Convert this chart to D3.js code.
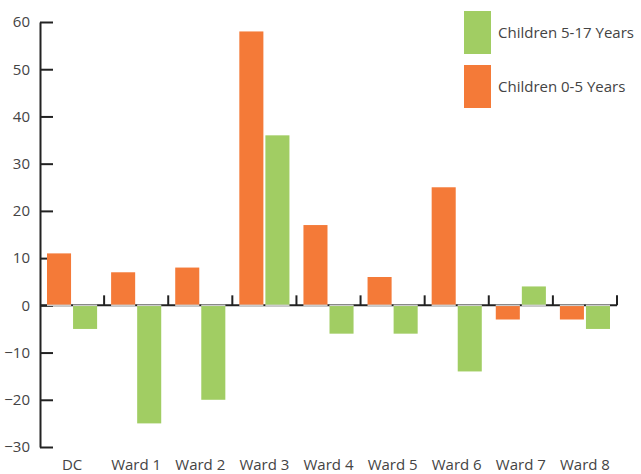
<!DOCTYPE html>
<html>
<head>
<meta charset="utf-8">
<script src="https://cdn.jsdelivr.net/npm/d3@7"></script>
<style>
  body { margin: 0; background: #fff; }
  text { font-family: "Open Sans", sans-serif; fill: #444; }
</style>
</head>
<body>
<svg id="chart" width="641" height="474"></svg>
<script>
const categories = ["DC", "Ward 1", "Ward 2", "Ward 3", "Ward 4", "Ward 5", "Ward 6", "Ward 7", "Ward 8"];
const seriesNames = ["Children 0-5 Years", "Children 5-17 Years"];
const under5 = [11, 7, 8, 58, 17, 6, 25, -3, -3];
const age5to17 = [-5, -25, -20, 36, -6, -6, -14, 4, -5];
const yTicks = [-30, -20, -10, 0, 10, 20, 30, 40, 50, 60];

const colors = { "Children 0-5 Years": "#f47a38", "Children 5-17 Years": "#a1cd63" };

const width = 641, height = 474;
const margin = { top: 22, right: 24, bottom: 27, left: 40 };

const svg = d3.select("#chart");

const data = categories.map((c, i) => ({
  cat: c,
  values: [
    { key: seriesNames[0], value: under5[i] },
    { key: seriesNames[1], value: age5to17[i] }
  ]
}));

const x0 = d3.scaleBand()
  .domain(categories)
  .range([margin.left, width - margin.right])
  .paddingInner(0)
  .paddingOuter(0);

const x1 = d3.scaleBand()
  .domain(seriesNames)
  .range([7, x0.bandwidth() - 7])
  .paddingInner(0.077);

const y = d3.scaleLinear()
  .domain([-30, 60])
  .range([height - margin.bottom, margin.top]);

// y axis
const yAxis = d3.axisLeft(y)
  .tickValues(yTicks)
  .tickSizeInner(-13)
  .tickSizeOuter(0)
  .tickPadding(10);

const gy = svg.append("g")
  .attr("transform", `translate(${margin.left},0)`)
  .call(yAxis);
gy.select(".domain").attr("stroke", "#222").attr("stroke-width", 2);
gy.selectAll(".tick line").attr("stroke", "#222").attr("stroke-width", 2);
gy.selectAll(".tick text")
  .attr("font-size", 15)
  .attr("font-family", "Open Sans, sans-serif")
  .attr("fill", "#444");

// x axis (zero line) with category boundary ticks pointing up
const y0 = y(0);
svg.append("line")
  .attr("x1", margin.left).attr("x2", width - margin.right)
  .attr("y1", y0).attr("y2", y0)
  .attr("stroke", "#222").attr("stroke-width", 2);

svg.append("g").selectAll("line")
  .data(categories)
  .join("line")
  .attr("x1", d => x0(d) + x0.bandwidth())
  .attr("x2", d => x0(d) + x0.bandwidth())
  .attr("y1", y0)
  .attr("y2", y0 - 10)
  .attr("stroke", "#222").attr("stroke-width", 2);

// bars
const groups = svg.append("g").selectAll("g")
  .data(data)
  .join("g")
  .attr("transform", d => `translate(${x0(d.cat)},0)`);

groups.selectAll("rect")
  .data(d => d.values)
  .join("rect")
  .attr("x", d => x1(d.key))
  .attr("width", x1.bandwidth())
  .attr("y", d => y(Math.max(0, d.value)))
  .attr("height", d => Math.abs(y(d.value) - y(0)))
  .attr("fill", d => colors[d.key]);

// light baseline under bars
groups.selectAll("line.base")
  .data(d => d.values)
  .join("line")
  .attr("class", "base")
  .attr("x1", d => x1(d.key))
  .attr("x2", d => x1(d.key) + x1.bandwidth())
  .attr("y1", y0).attr("y2", y0)
  .attr("stroke", "#ccc").attr("stroke-width", 1.5);

// category labels
svg.append("g").selectAll("text")
  .data(categories)
  .join("text")
  .attr("x", d => x0(d) + x0.bandwidth() / 2)
  .attr("y", 470)
  .attr("text-anchor", "middle")
  .attr("font-size", 15)
  .text(d => d);

// legend (5-17 on top)
const legendItems = [seriesNames[1], seriesNames[0]];
const legend = svg.append("g").attr("transform", "translate(464,11)");
const li = legend.selectAll("g")
  .data(legendItems)
  .join("g")
  .attr("transform", (d, i) => `translate(0,${i * 54})`);
li.append("rect")
  .attr("width", 27).attr("height", 43)
  .attr("fill", d => colors[d]);
li.append("text")
  .attr("x", 34).attr("y", 21.5)
  .attr("dy", "0.35em")
  .attr("font-size", 15)
  .text(d => d);
</script>
</body>
</html>
